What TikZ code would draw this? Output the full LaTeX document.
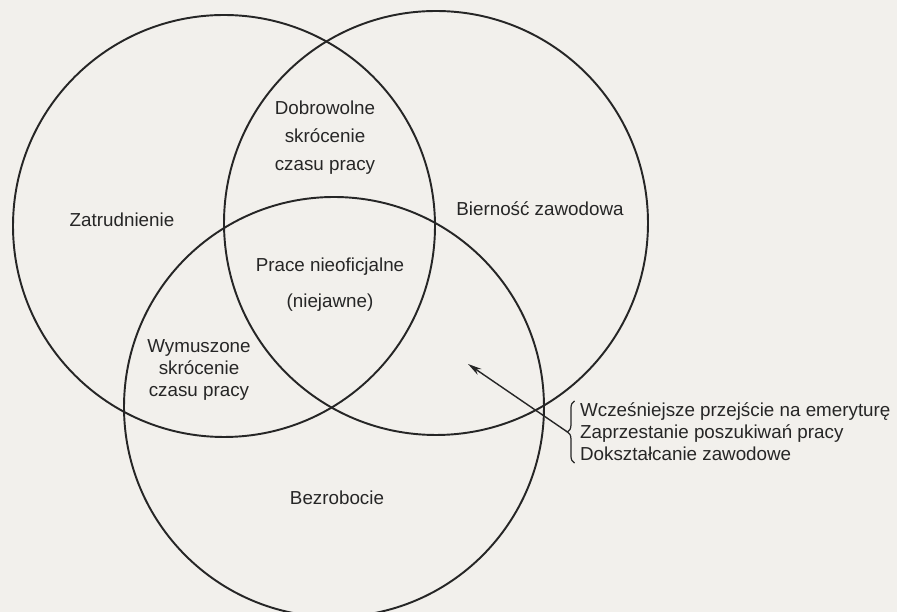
\documentclass[tikz,border=0pt]{standalone}
\usepackage{fontspec}
\setmainfont{Liberation Sans}
\usetikzlibrary{arrows.meta, decorations.pathreplacing}
\definecolor{vnInk}{HTML}{262626}
\definecolor{vnPaper}{HTML}{F2F0EC}

\begin{document}
\begin{tikzpicture}[
  every node/.style={font=\fontsize{10.7}{12.5}\selectfont, text=vnInk, align=center},
  circ/.style={draw=vnInk, line width=1.1pt},
  brc/.style={draw=vnInk, line width=0.7pt, decorate, decoration={brace, amplitude=4pt}},
  arr/.style={-{Stealth[length=8pt, width=4pt]}, draw=vnInk, line width=0.8pt}
]
  \fill[vnPaper] (0,0) rectangle (17.94,12.24);
  \useasboundingbox (0,0) rectangle (17.94,12.24);

  % the three sets
  \coordinate (zatrC) at (4.48,7.72);
  \coordinate (biernC) at (8.72,7.78);
  \coordinate (bezrC) at (6.68,4.10);
  \draw[circ] (zatrC) circle (4.22);
  \draw[circ] (biernC) circle (4.24);
  \draw[circ] (bezrC) circle (4.20);

  \node (zatr) at (2.44,7.84) {Zatrudnienie};
  \node (biern) at (10.8,8.06) {Bierność zawodowa};
  \node (bezr) at (6.74,2.28) {Bezrobocie};
  \node (dobro) at (6.5,9.48) {Dobrowolne\\[3.5pt]skrócenie\\[3.5pt]czasu pracy};
  \node (prace) at (6.6,6.55) {Prace nieoficjalne\\[8pt](niejawne)};
  \node (wymusz) at (3.98,4.84) {Wymuszone\\skrócenie\\czasu pracy};

  % outflows from the market
  \node[anchor=west, align=left, inner sep=1pt] (lista) at (11.56,3.6)
    {Wcześniejsze przejście na emeryturę\\Zaprzestanie poszukiwań pracy\\Dokształcanie zawodowe};
  \draw[brc] ([xshift=-2pt]lista.south west) -- ([xshift=-2pt]lista.north west);
  \coordinate (tip) at ([xshift=-6pt]lista.west);
  \coordinate (cel) at (9.36,4.96);
  \draw[arr] (tip) -- (cel);
\end{tikzpicture}
\end{document}
